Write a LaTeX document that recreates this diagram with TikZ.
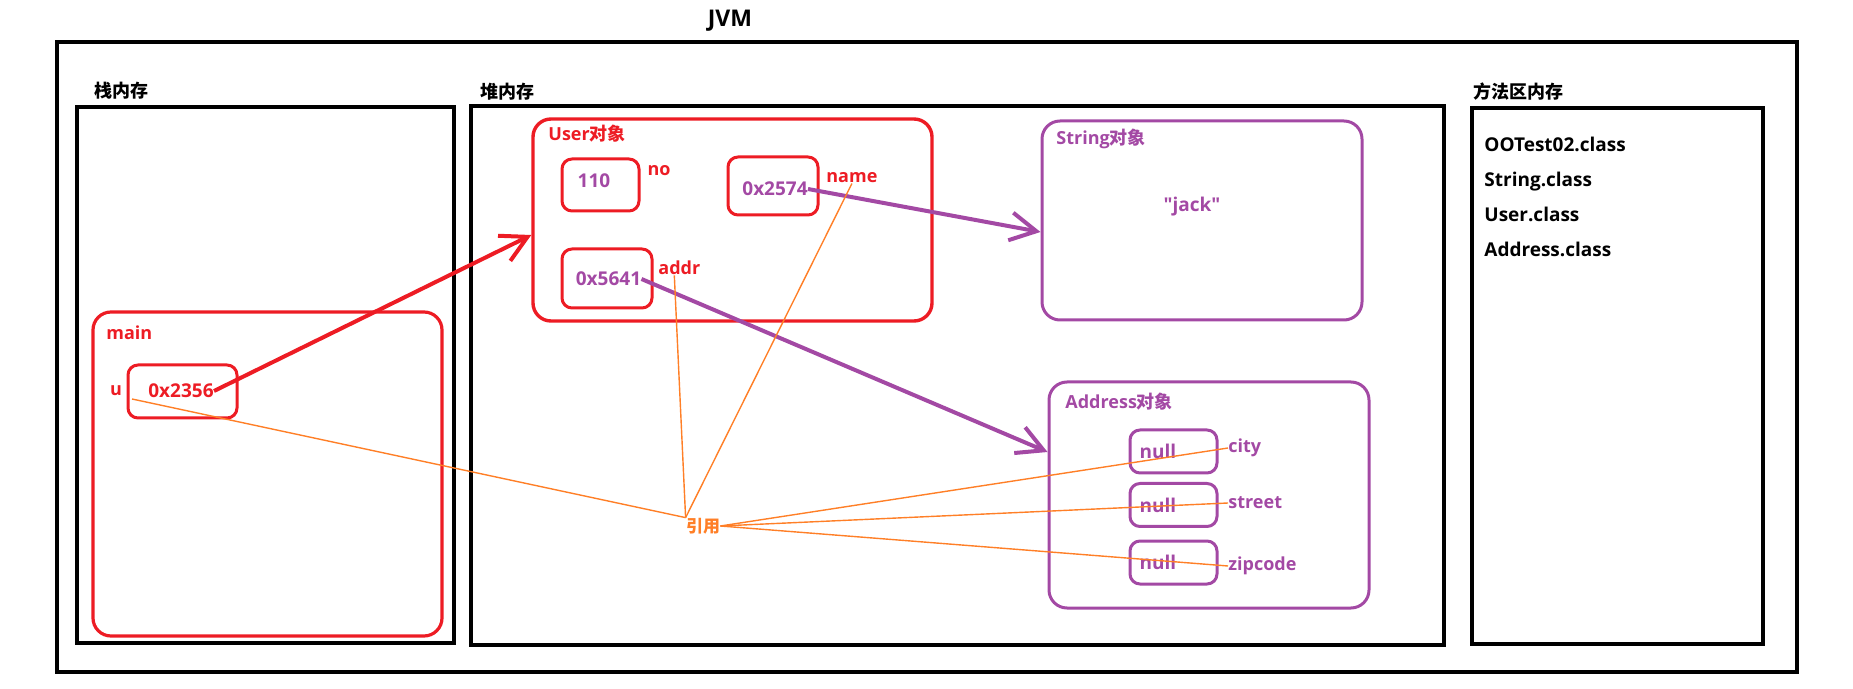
\documentclass[tikz,border=0pt]{standalone}
\usepackage{fontspec}
\setmainfont{Open Sans}[Ligatures=TeXOff]
\newfontfamily\cjk{Noto Sans CJK SC}
\usepackage{xcolor}
\usepackage{tikz}
\usetikzlibrary{arrows.meta}

\definecolor{pRed}{RGB}{237,28,36}
\definecolor{pPurple}{RGB}{163,73,164}
\definecolor{pOrange}{RGB}{255,127,39}

\begin{document}
\begin{tikzpicture}[x=0.5pt,y=-0.5pt,
  memframe/.style={draw=black,line width=2pt},
  redframe/.style={draw=pRed,line width=1.6pt,rounded corners=9pt},
  redbox/.style={draw=pRed,line width=1.5pt,rounded corners=5pt,inner sep=0pt},
  purbox/.style={draw=pPurple,line width=1.5pt,rounded corners=5pt,inner sep=0pt},
  lbl/.style={inner sep=0pt,font=\bfseries\fontsize{9}{11}\selectfont},
  redtx/.style={lbl,text=pRed},
  purtx/.style={lbl,text=pPurple},
  val/.style={inner sep=0pt,font=\bfseries\fontsize{9.5}{11}\selectfont},
  ptr/.style={line width=2pt,-{Straight Barb[length=13pt,width=14pt]}},
  refline/.style={draw=pOrange,line width=0.7pt}]

\useasboundingbox (0,0) rectangle (1853,689);

% --- JVM ---
\node[inner sep=0pt,font=\bfseries\fontsize{11.5}{13}\selectfont] (jvm) at (730,21) {JVM};
\draw[memframe] (57,42) rectangle (1797,672);

% --- STACK ---
\draw[memframe] (77,107) rectangle (454,643);
\node[lbl,anchor=west] (stack) at (94,91) {\cjk 栈内存};
\draw[redframe] (93,312) rectangle (442,636);
\node[redtx,anchor=west] (main) at (106,333) {main};
\node[redbox,minimum width=54.5pt,minimum height=26.5pt] (box2356) at (182.5,391.5) {};
\node[val,text=pRed] (v2356) at (181,391) {0x2356};
\node[redtx] (u) at (116,391) {u};
\coordinate (uref) at (132,399);

% --- HEAP ---
\draw[memframe] (471,106) rectangle (1444,645);
\node[lbl,anchor=west] (heap) at (480,92) {\cjk 堆内存};

% User
\node[redbox,rounded corners=9pt,line width=1.7pt,minimum width=199.5pt,minimum height=101pt] (user) at (732.5,220) {};
\node[redtx,anchor=west] (usertit) at (548,134) {User{\cjk 对象}};
\node[redbox,minimum width=38.5pt,minimum height=26pt] (box110) at (600.5,185) {};
\node[val,text=pPurple] (v110) at (594,181) {110};
\node[redtx] (no) at (659,171) {no};
\node[redbox,minimum width=45pt,minimum height=29pt] (box2574) at (773,186) {};
\node[val,text=pPurple] (v2574) at (775,189) {0x2574};
\node[redtx,anchor=west] (name) at (826,178) {name};
\node[redbox,minimum width=45pt,minimum height=29.5pt] (box5641) at (607,278.5) {};
\node[val,text=pPurple] (v5641) at (608.5,279) {0x5641};
\node[redtx,anchor=west] (addr) at (658,268) {addr};

% String
\node[purbox,rounded corners=9pt,minimum width=160pt,minimum height=99.5pt] (strobj) at (1202,220.5) {};
\node[purtx,anchor=west] (strtit) at (1056,139) {String{\cjk 对象}};
\node[val,text=pPurple] (jack) at (1192,207) {"jack"};

% Address
\node[purbox,rounded corners=9pt,minimum width=160pt,minimum height=113pt] (adrobj) at (1209,495) {};
\node[purtx,anchor=west] (adrtit) at (1065,402) {Address{\cjk 对象}};
\foreach \f/\y/\ly in {city/451.5/448, street/505/503, zipcode/562.5/566} {
    \node[purbox,minimum width=43.5pt,minimum height=21.5pt] (box\f) at (1173.5,\y) {};
    \node[val,text=pPurple] (null\f) at (1158,\y) {null};
    \node[purtx,anchor=west] (\f) at (1228,\ly) {\f};
}

% --- METHOD AREA ---
\draw[memframe] (1472,108) rectangle (1763,644);
\node[lbl,anchor=west] (method) at (1473,92) {\cjk 方法区内存};
\foreach \c [count=\i] in {OOTest02,String,User,Address}
    \node[val,anchor=base west] (cls\i) at (1484,{117+35*\i}) {\c.class};

% --- POINTERS ---
\draw[ptr,pRed] (v2356.east) -- ([yshift=-7.5pt]user.west);
\draw[ptr,pPurple] (v2574.east) -- ([yshift=-5.75pt]strobj.west);
\draw[ptr,pPurple] (v5641.east) -- ([yshift=21.5pt]adrobj.west);

% --- REFERENCES ---
\node[inner sep=0pt,text=pOrange,font=\cjk\bfseries\fontsize{8.5}{10}\selectfont] (ref) at (703,526) {引用};
\draw[refline] (ref.north west) -- (uref);
\draw[refline] (ref.north west) -- ([xshift=-2.5pt]addr.south);
\draw[refline] (ref.north west) -- (name.south);
\foreach \f in {city,street,zipcode}
    \draw[refline] (ref.east) -- (\f.west);

\end{tikzpicture}
\end{document}
